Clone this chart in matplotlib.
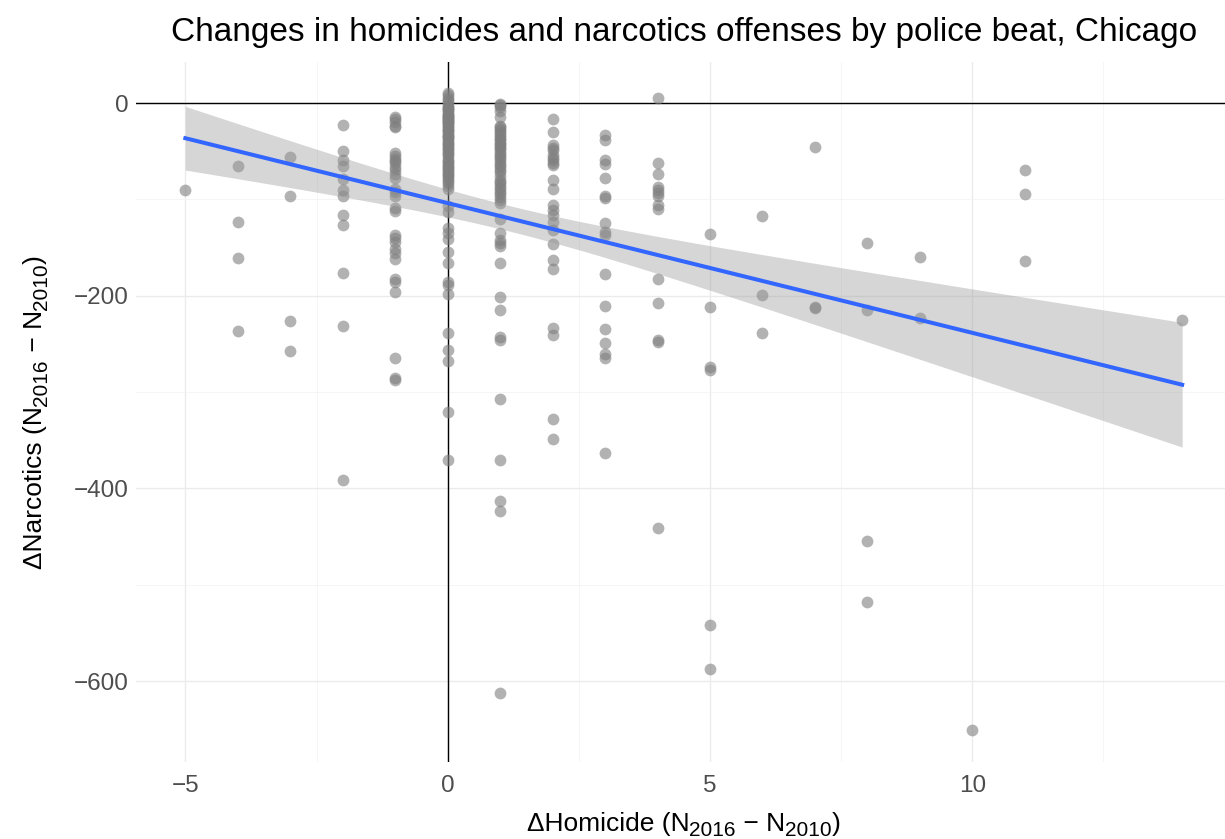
import numpy as np
import matplotlib
matplotlib.use("Agg")
import matplotlib.pyplot as plt
from matplotlib.ticker import MultipleLocator
from matplotlib.transforms import IdentityTransform

plt.rcParams['font.family'] = ['Liberation Sans', 'DejaVu Sans']

# ---- data: change in narcotics offenses per beat, grouped by change in homicides ----
narc_m5 = [-90]
narc_m4 = [-65, -123, -161, -237]
narc_m3 = [-56, -96, -226, -257]
narc_m2 = [-23, -50, -59, -65, -79, -90, -96, -116, -127, -176, -231, -391]
narc_m1 = [-14, -17, -20, -24, -25, -52, -55, -58, -60, -62, -66, -70, -74, -78, -89,
           -92, -96, -109, -112, -137, -140, -144, -152, -156, -162, -183, -186, -196,
           -265, -285, -287]
narc_0 = [10, 8, 5, 3, 1, -2, -4, -5, -6, -7, -9, -11, -12, -13, -14, -15, -17, -18,
          -19, -20, -21, -22, -24, -25, -27, -28, -29, -31, -33, -34, -35, -36, -38,
          -40, -42, -43, -45, -47, -48, -50, -52, -53, -55, -58, -60, -61, -63, -65,
          -66, -68, -70, -72, -74, -75, -77, -79, -81, -83, -86, -89,
          -107, -113, -130, -135, -141, -155, -166, -186, -189, -198, -239, -256,
          -268, -321, -371]
narc_1 = [-1, -2, -4, -8, -14, -24, -25, -27, -29, -31, -33, -35, -37, -38, -41, -43,
          -45, -47, -48, -51, -53, -55, -57, -59, -62, -64, -66, -69, -72, -76, -80,
          -82, -84, -87, -89, -92, -94, -97, -101, -104, -120, -135, -142, -145, -148,
          -166, -201, -215, -243, -246, -307, -371, -413, -424, -612]
narc_2 = [-17, -30, -44, -47, -49, -54, -57, -59, -62, -64, -80, -89, -106, -111, -116,
          -123, -132, -146, -163, -172, -234, -241, -328, -349]
narc_3 = [-33, -38, -59, -63, -78, -96, -99, -125, -134, -137, -177, -211, -235, -249,
          -260, -265, -363]
narc_4 = [5, -62, -74, -87, -90, -93, -96, -106, -110, -183, -208, -246, -248, -441]
narc_5 = [-136, -212, -274, -277, -542, -588]
narc_6 = [-117, -199, -239]
narc_7 = [-46, -212, -213]
narc_8 = [-145, -215, -455, -518]
narc_9 = [-160, -223]
narc_10 = [-651]
narc_11 = [-70, -94, -164]
narc_14 = [-225]

homicide_levels = [-5, -4, -3, -2, -1, 0, 1, 2, 3, 4, 5, 6, 7, 8, 9, 10, 11, 14]
narc_groups = [narc_m5, narc_m4, narc_m3, narc_m2, narc_m1, narc_0, narc_1, narc_2,
               narc_3, narc_4, narc_5, narc_6, narc_7, narc_8, narc_9, narc_10,
               narc_11, narc_14]

x_ticks = [-5, 0, 5, 10]
y_ticks = [-600, -400, -200, 0]

title = 'Changes in homicides and narcotics offenses by police beat, Chicago'
x_label_parts = ['ΔHomicide (N', '2016', ' − N', '2010', ')']
y_label_parts = ['ΔNarcotics (N', '2016', ' − N', '2010', ')']
is_subscript = [False, True, False, True, False]

x = np.concatenate([[h] * len(g) for h, g in zip(homicide_levels, narc_groups)]).astype(float)
y = np.concatenate(narc_groups).astype(float)

# ---- linear fit with 95% confidence band (like geom_smooth(method='lm')) ----
n = len(x)
X = np.column_stack([np.ones(n), x])
beta, *_ = np.linalg.lstsq(X, y, rcond=None)
resid = y - X @ beta
s2 = resid @ resid / (n - 2)
XtX_inv = np.linalg.inv(X.T @ X)
xg = np.linspace(x.min(), x.max(), 200)
Xg = np.column_stack([np.ones_like(xg), xg])
yg = Xg @ beta
se = np.sqrt(s2 * np.einsum('ij,jk,ik->i', Xg, XtX_inv, Xg))
tcrit = 1.969
lo, hi = yg - tcrit * se, yg + tcrit * se

# ---- figure ----
W, H = 1225, 839
fig = plt.figure(figsize=(W / 100, H / 100), dpi=100)
left, right, top, bottom = 135.5, 1232, 61.6, 762
ax = fig.add_axes([left / W, 1 - bottom / H, (right - left) / W, (bottom - top) / H])

xr = x.max() - x.min()
yr = y.max() - y.min()
ax.set_xlim(x.min() - 0.05 * xr, x.max() + 0.05 * xr)
ax.set_ylim(y.min() - 0.05 * yr, y.max() + 0.05 * yr)

ax.set_xticks(x_ticks)
ax.set_yticks(y_ticks)
ax.xaxis.set_minor_locator(MultipleLocator(2.5))
ax.yaxis.set_minor_locator(MultipleLocator(100))
ax.grid(which='major', color='#EBEBEB', linewidth=1.0, zorder=0)
ax.grid(which='minor', color='#F3F3F3', linewidth=0.55, zorder=0)
ax.set_axisbelow(True)
for sp in ax.spines.values():
    sp.set_visible(False)
ax.tick_params(which='both', length=0)
ax.tick_params(axis='both', labelsize=17.5, labelcolor='#4D4D4D')
ax.tick_params(axis='x', pad=9)
ax.tick_params(axis='y', pad=5)

ax.axhline(0, color='black', linewidth=1.0, zorder=1)
ax.axvline(0, color='black', linewidth=1.0, zorder=1)

ax.scatter(x, y, s=72, color='#7F7F7F', alpha=0.6, linewidths=0, zorder=2)
ax.fill_between(xg, lo, hi, color='#999999', alpha=0.4, linewidth=0, zorder=3)
ax.plot(xg, yg, color='#3366FF', linewidth=2.9, zorder=4)

# ---- axis titles with subscripts, assembled piece by piece (pixel coordinates) ----
renderer = fig.canvas.get_renderer()
MAIN_FS, SUB_FS, SUB_DROP = 19, 15, 5.5


def piece_widths(parts):
    ws = []
    for s, sub in zip(parts, is_subscript):
        t = fig.text(0, 0, s, fontsize=SUB_FS if sub else MAIN_FS)
        ws.append(t.get_window_extent(renderer).width)
        t.remove()
    return ws


def draw_label(parts, center, baseline, vertical):
    ws = piece_widths(parts)
    pos = center - sum(ws) / 2
    for s, sub, w in zip(parts, is_subscript, ws):
        fs = SUB_FS if sub else MAIN_FS
        drop = SUB_DROP if sub else 0
        if vertical:
            fig.text(baseline + drop, pos, s, fontsize=fs, rotation=90,
                     rotation_mode='anchor', ha='left', va='baseline',
                     transform=IdentityTransform())
        else:
            fig.text(pos, baseline - drop, s, fontsize=fs, ha='left', va='baseline',
                     transform=IdentityTransform())
        pos += w


draw_label(x_label_parts, (left + right) / 2, H - 831, vertical=False)
draw_label(y_label_parts, H - (top + bottom) / 2, 42, vertical=True)

fig.text(684 / W, 1 - 33 / H, title, ha='center', va='center', fontsize=24)

fig.savefig('out.png', dpi=100)
